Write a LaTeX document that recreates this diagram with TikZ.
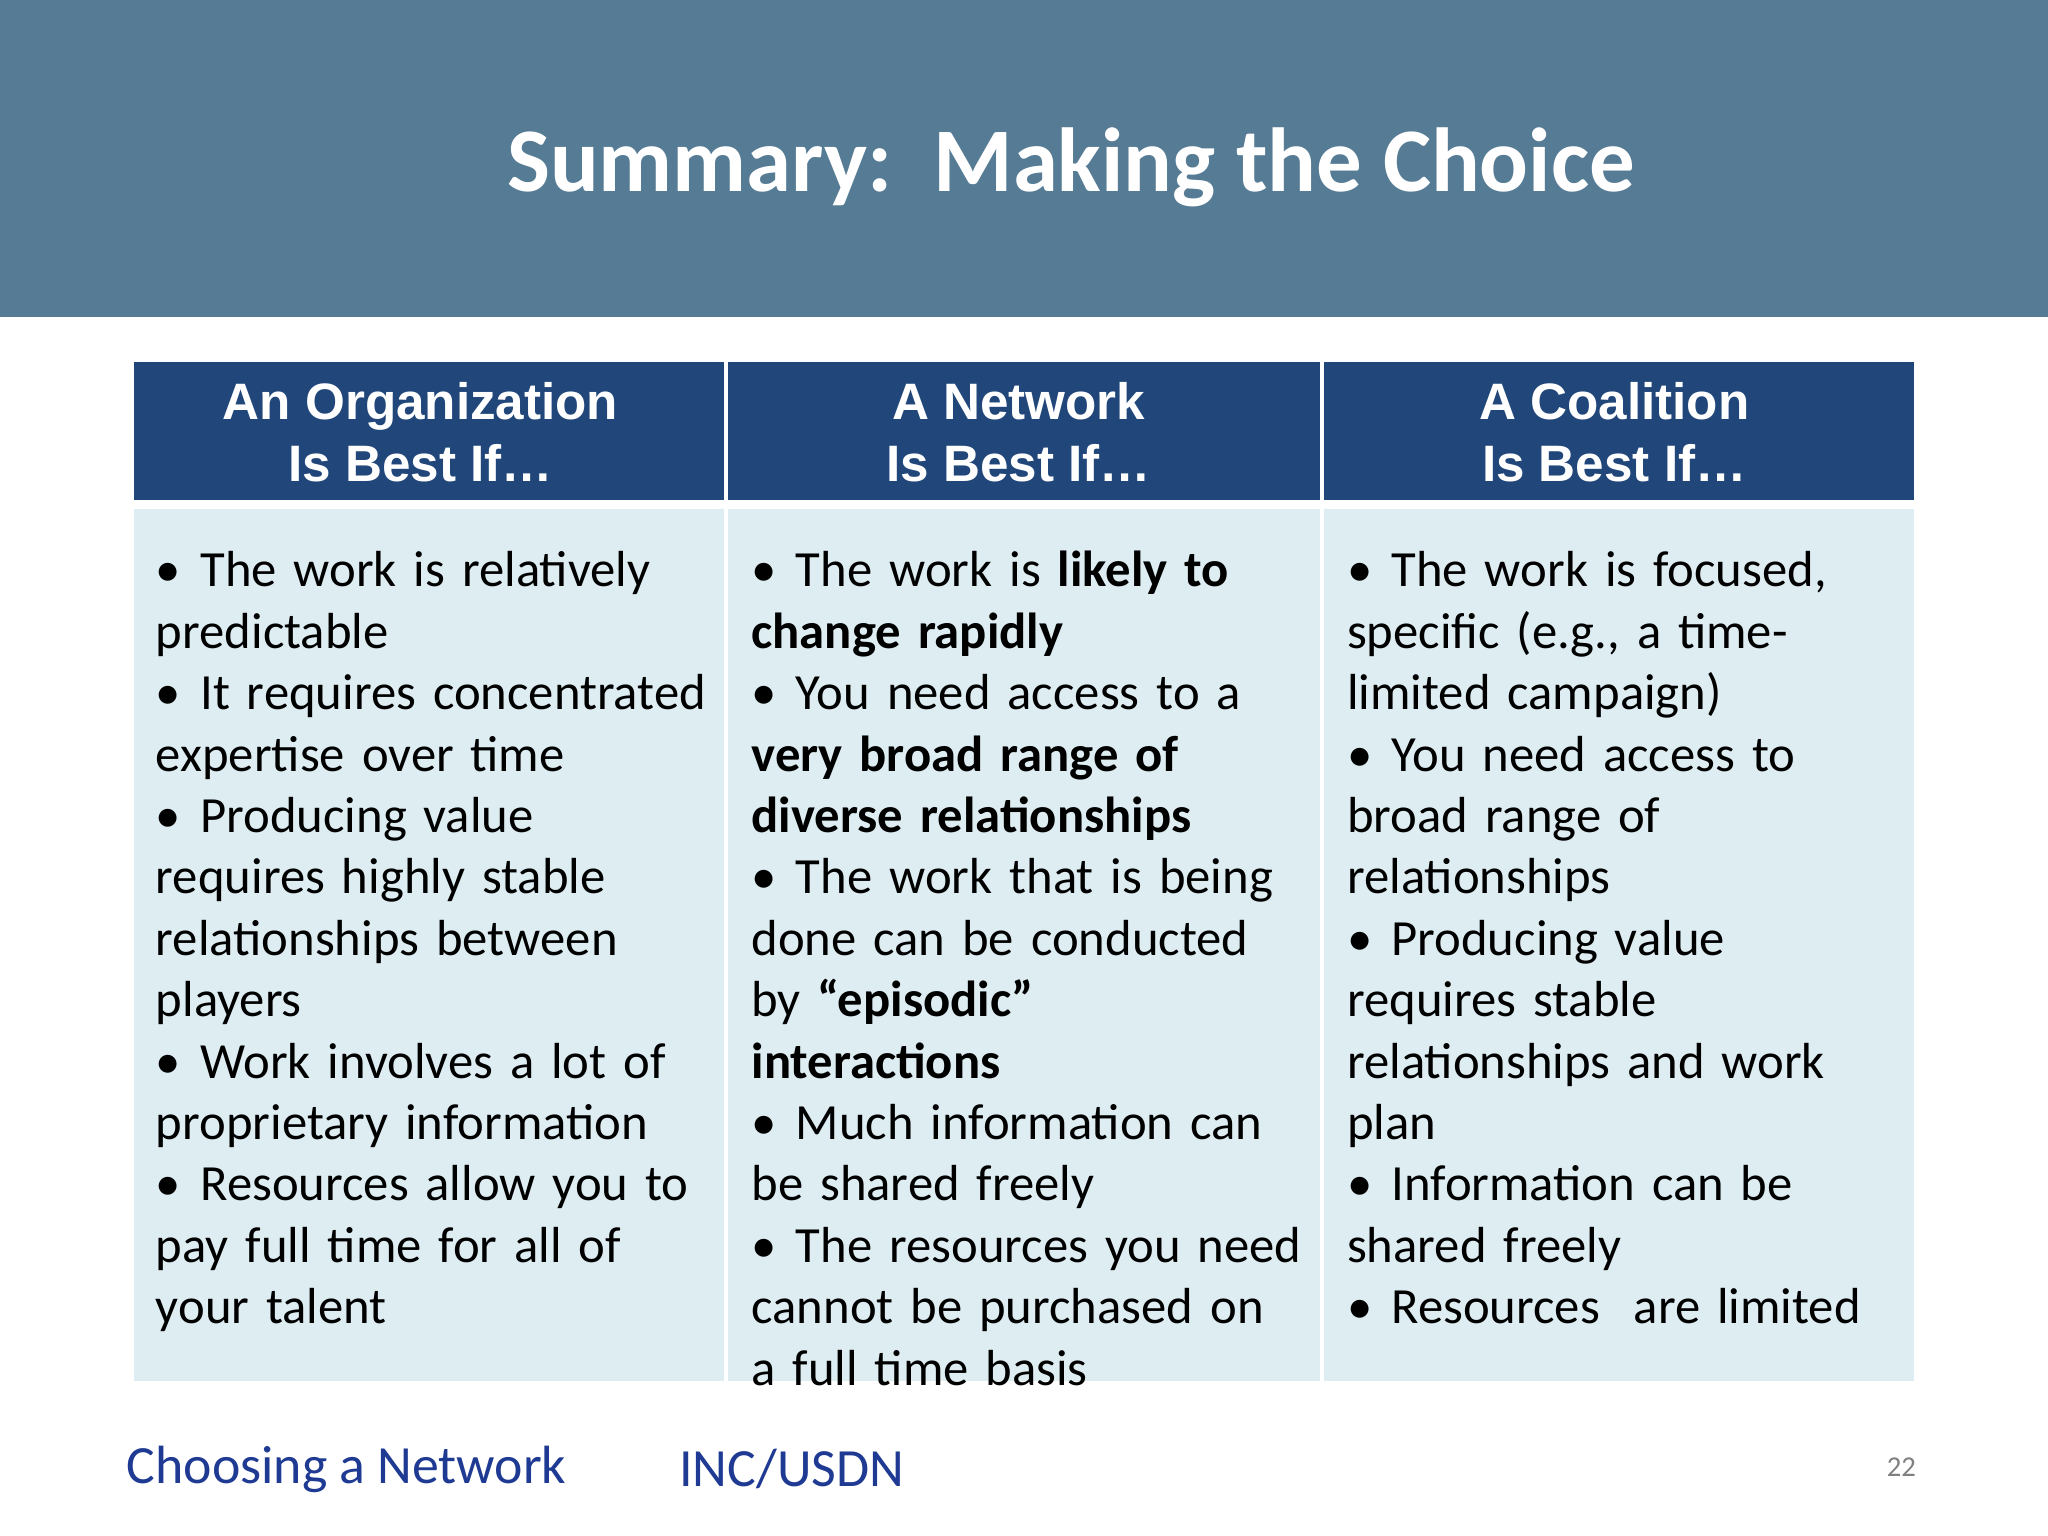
\documentclass[tikz,border=0pt]{standalone}
\usepackage{fontspec}
\setmainfont{Carlito}
\newfontfamily\hdfont{Liberation Sans}
\definecolor{band}{HTML}{557B95}
\definecolor{hdr}{HTML}{21477A}
\definecolor{cell}{HTML}{DEEDF2}
\definecolor{foot}{HTML}{1F3A93}
\newcommand{\bi}[1]{\par\noindent\hangindent=17pt\hangafter=1\makebox[17pt][l]{•}#1\par}
\tikzset{
  hbox/.style={fill=hdr,draw=white,line width=1.5pt},
  cbox/.style={fill=cell,draw=white,line width=1.5pt},
  htext/.style={text=white,font=\hdfont\bfseries\fontsize{19.6}{24}\selectfont,align=center},
  col/.style={anchor=north west,inner sep=0pt,text width=230pt,align=left,font=\fontsize{19.4}{23.5}\selectfont}
}
\begin{document}
\begin{tikzpicture}[x=0.5pt,y=-0.5pt]
\useasboundingbox (0,0) rectangle (1568,1176);
\fill[band] (0,0) rectangle (1568,243);
\node[text=white,font=\bfseries\fontsize{34.8}{40}\selectfont] (title) at (820,128) {Summary:\ \ Making the Choice};
\foreach \a/\b [count=\i] in {101/556,556/1012,1012/1467}{
  \path[hbox] (\a,276) rectangle (\b,384);
  \path[cbox] (\a,388) rectangle (\b,1059);
}
\node[htext] (h1) at (322,331) {An Organization\\Is Best If…};
\node[htext] (h2) at (780,331) {A Network\\Is Best If…};
\node[htext] (h3) at (1236,331) {A Coalition\\Is Best If…};
\node[col] (c1) at (119,402) {%
\bi{The work is relatively\\predictable}
\bi{It requires concentrated\\expertise over time}
\bi{Producing value\\requires highly stable\\relationships between\\players}
\bi{Work involves a lot of\\proprietary information}
\bi{Resources allow you to\\pay full time for all of\\your talent}};
\node[col] (c2) at (575,402) {%
\bi{The work is \textbf{likely to}\\\textbf{change rapidly}}
\bi{You need access to a\\\textbf{very broad range of}\\\textbf{diverse relationships}}
\bi{The work that is being\\done can be conducted\\by \textbf{“episodic”}\\\textbf{interactions}}
\bi{Much information can\\be shared freely}
\bi{The resources you need\\cannot be purchased on\\a full time basis}};
\node[col] (c3) at (1031,402) {%
\bi{The work is focused,\\specific (e.g., a time-\\limited campaign)}
\bi{You need access to\\broad range of\\relationships}
\bi{Producing value\\requires stable\\relationships and work\\plan}
\bi{Information can be\\shared freely}
\bi{Resources\ \ are limited}};
\node[anchor=west,text=foot,font=\fontsize{20.6}{24}\selectfont] (f1) at (90,1125) {Choosing a Network};
\node[anchor=west,text=foot,font=\fontsize{20.6}{24}\selectfont] (f2) at (513,1125) {INC/USDN};
\node[anchor=east,text=gray,font=\fontsize{11}{13}\selectfont] (pg) at (1474,1123) {22};
\end{tikzpicture}
\end{document}
